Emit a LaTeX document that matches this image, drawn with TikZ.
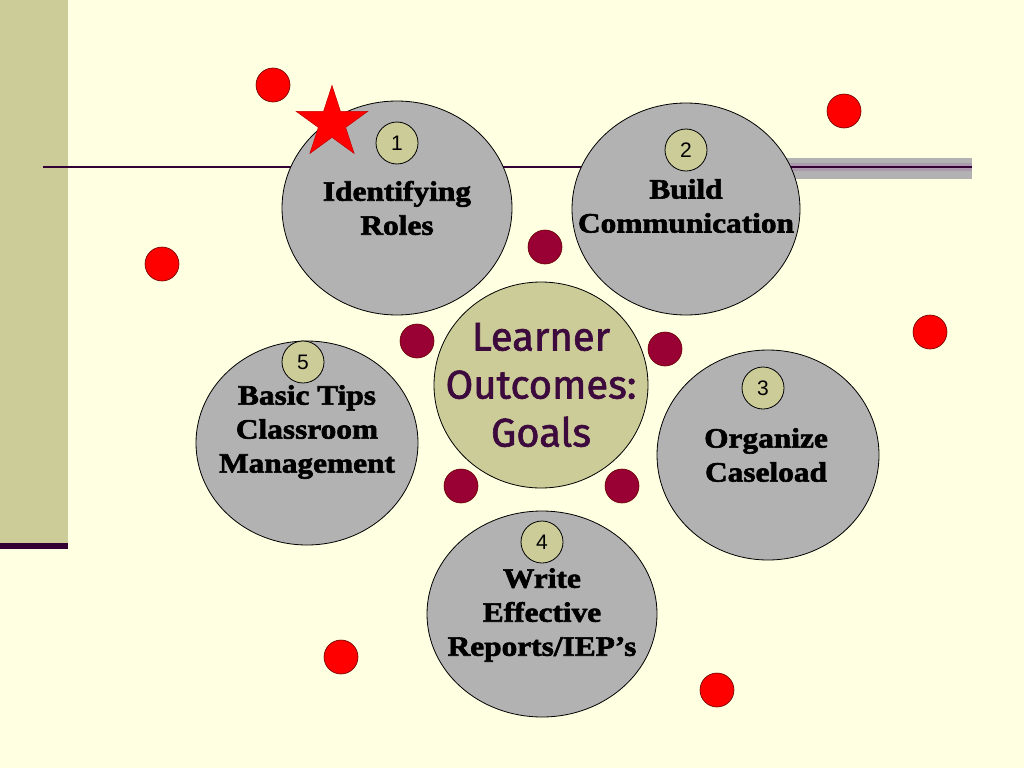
\documentclass[tikz,border=0pt]{standalone}
\usepackage{fontspec}
\setmainfont{Liberation Serif}
\newfontfamily\labelfont[FakeStretch=1.12,FakeBold=2.2]{Liberation Serif}
\newfontfamily\numfont{Liberation Sans}
\newfontfamily\hubfont[FakeBold=1.6]{Fira Sans}
\usetikzlibrary{shapes.geometric}
\definecolor{paper}{HTML}{FFFFE1}
\definecolor{khaki}{HTML}{CCCC99}
\definecolor{plum}{HTML}{330033}
\definecolor{hubink}{HTML}{3D0A3D}
\definecolor{wine}{HTML}{990033}
\definecolor{goalgray}{HTML}{B2B2B2}
\tikzset{
  goal/.style={ellipse,draw=black,fill=goalgray,line width=0.8pt,inner sep=0pt},
  badge/.style={circle,draw=black,fill=khaki,line width=0.8pt,minimum size=42pt,inner sep=0pt,font=\numfont\fontsize{21}{21}\selectfont},
  goaltext/.style={align=center,inner sep=0pt,font=\labelfont\bfseries\fontsize{28}{34}\selectfont},
  dot/.style={circle,draw=black!60!red,line width=0.6pt,minimum size=34pt,inner sep=0pt}
}
\begin{document}
\begin{tikzpicture}[x=1pt,y=-1pt]
    \fill[paper] (0,0) rectangle (1024,768);
    \fill[khaki] (0,0) rectangle (68,545);
    \fill[plum] (0,543) rectangle (68,549);
    \fill[goalgray] (700,158) rectangle (972,179);
    \fill[plum!40] (700,163) rectangle (972,171);
    \coordinate (rule west) at (43,167);
    \coordinate (rule east) at (972,167);
    \draw[plum,line width=1.6pt] (rule west) -- (rule east);

    \node[goal,minimum width=230pt,minimum height=214pt] (roles) at (397,208) {};
    \node[goal,minimum width=228pt,minimum height=212pt] (communication) at (686,209) {};
    \node[goal,minimum width=222pt,minimum height=210pt] (caseload) at (768,455) {};
    \node[goal,minimum width=230pt,minimum height=206pt] (reports) at (542,614) {};
    \node[goal,minimum width=222pt,minimum height=204pt] (tips) at (307,443) {};
    \node[ellipse,draw=black,fill=khaki,line width=0.8pt,inner sep=0pt,
          minimum width=214pt,minimum height=206pt] (hub) at (541,385) {};

    \node[goaltext] (roles text) at (397,208) {Identifying\\Roles};
    \node[goaltext] (communication text) at (686,206) {Build\\Communication};
    \node[goaltext] (caseload text) at (766,455) {Organize\\Caseload};
    \node[goaltext] (reports text) at (542,615) {Write\\Effective\\Reports/IEP’s};
    \node[goaltext] (tips text) at (307,432) {Basic Tips\\Classroom\\Management};
    \node[align=center,inner sep=0pt,text=hubink,font=\hubfont\fontsize{40}{48}\selectfont] (hub text) at (541,385) {Learner\\Outcomes:\\Goals};

    \node[badge] (badge roles) at (397,143) {1};
    \node[badge] (badge communication) at (686,150) {2};
    \node[badge] (badge caseload) at (763,388) {3};
    \node[badge] (badge reports) at (542,542) {4};
    \node[badge] (badge tips) at (303,362) {5};

    \foreach \x/\y [count=\i] in {545/247,417/341,665/349,461/486,622/486}
        \node[dot,fill=wine] (link \i) at (\x,\y) {};
    \foreach \x/\y [count=\i] in {273/85,162/264,844/111,930/332,341/657,717/690}
        \node[dot,fill=red] (spot \i) at (\x,\y) {};

    \node[star,star points=5,star point ratio=2.618,fill=red,draw=red!80!black,
          line width=0.6pt,minimum size=75pt,inner sep=0pt] (marker) at (332,123) {};
\end{tikzpicture}
\end{document}
